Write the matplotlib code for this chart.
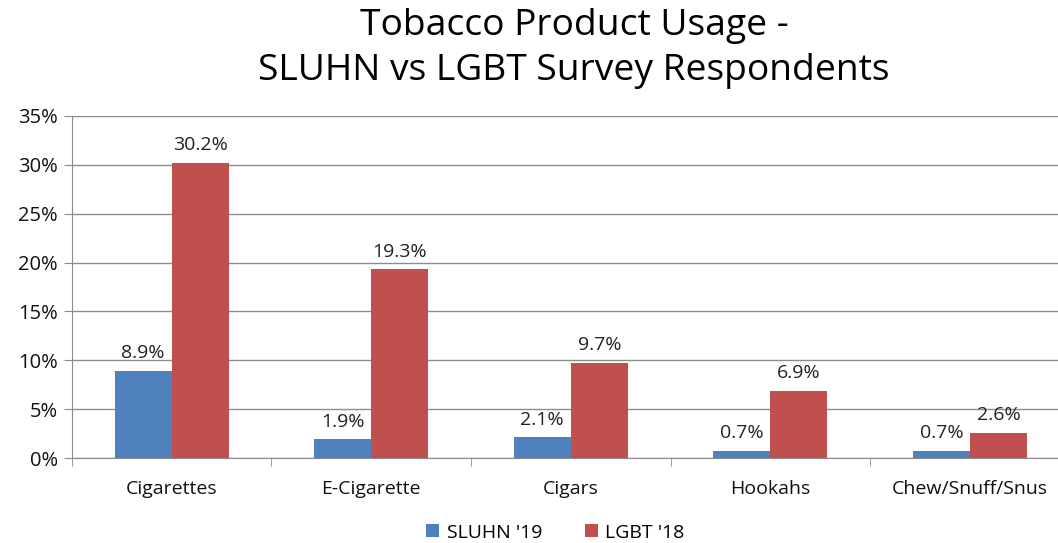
import matplotlib
matplotlib.use("Agg")
import matplotlib.pyplot as plt
import numpy as np
from matplotlib.ticker import FuncFormatter, FixedLocator

categories = ["Cigarettes", "E-Cigarette", "Cigars", "Hookahs", "Chew/Snuff/Snus"]
sluhn_19 = [8.9, 1.9, 2.1, 0.7, 0.7]
lgbt_18 = [30.2, 19.3, 9.7, 6.9, 2.6]
series_names = ["SLUHN '19", "LGBT '18"]
title = "Tobacco Product Usage -\nSLUHN vs LGBT Survey Respondents"

plt.rcParams['font.family'] = ['Open Sans', 'DejaVu Sans']

fig = plt.figure(figsize=(10.58, 5.43), dpi=100)
ax = fig.add_axes([0.068, 0.1565, 0.943, 0.63])

x = np.arange(len(categories))
w = 0.286
blue = "#4F81BD"
red = "#C0504D"
b1 = ax.bar(x - w/2, sluhn_19, w, color=blue, label=series_names[0], zorder=3)
b2 = ax.bar(x + w/2, lgbt_18, w, color=red, label=series_names[1], zorder=3)

for bars, vals in ((b1, sluhn_19), (b2, lgbt_18)):
    for r, v in zip(bars, vals):
        ax.text(r.get_x() + r.get_width()/2, v + 0.9, f"{v:.1f}%", ha="center",
                va="bottom", fontsize=14, color="#222222")

ax.set_xlim(-0.5, len(categories) - 0.5)
ax.set_ylim(0, 35)
ax.set_yticks(np.arange(0, 36, 5))
ax.yaxis.set_major_formatter(FuncFormatter(lambda v, p: f"{int(v)}%"))
ax.grid(axis="y", color="#8c8c8c", linewidth=1, zorder=0)
ax.set_axisbelow(True)

ax.set_xticks(x)
ax.set_xticklabels(categories)
ax.tick_params(axis="x", length=0, labelsize=14, pad=16, colors="#111111")
ax.xaxis.set_minor_locator(FixedLocator(np.arange(-0.5, len(categories), 1.0)))
ax.tick_params(axis="x", which="minor", length=6, color="#8c8c8c", direction="out")
ax.tick_params(axis="y", labelsize=14.5, length=6, color="#8c8c8c", pad=4, colors="#111111")
ax.tick_params(axis="y", colors="#8c8c8c", labelcolor="#111111")

for s in ("top", "right"):
    ax.spines[s].set_visible(False)
ax.spines["left"].set_color("#8c8c8c")
ax.spines["bottom"].set_color("#8c8c8c")

fig.text(0.5425, 0.985, title, ha="center", va="top", fontsize=26.8, linespacing=1.33,
         color="#000000")

fig.legend(handles=[b1, b2], labels=series_names, loc="lower center",
           bbox_to_anchor=(0.525, -0.03), ncol=2, frameon=False, fontsize=14,
           handlelength=0.65, handleheight=0.65, columnspacing=2.2, handletextpad=0.4)

fig.savefig("out.png", dpi=100)
